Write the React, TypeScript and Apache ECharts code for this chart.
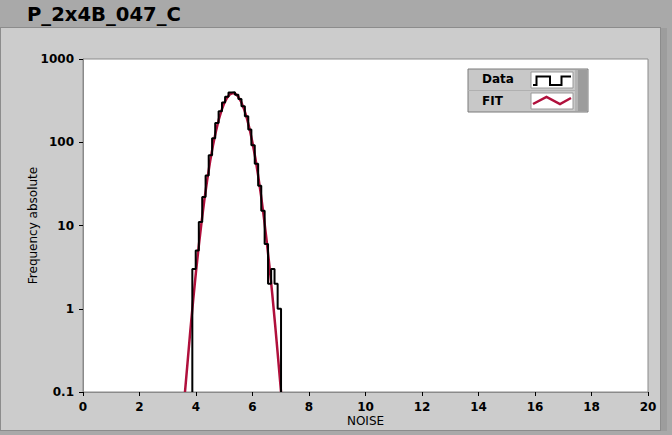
import React, { useEffect, useRef } from "react";
import * as echarts from "echarts";

const chartTitle = "P_2x4B_047_C";
const xAxisName = "NOISE";
const yAxisName = "Frequency absolute";
const legendNames = ["Data", "FIT"];

const xTicks = { min: 0, max: 20, interval: 2 };
const yRange = { min: 0.1, max: 1000 };

// histogram bin edges (27 bins) and counts
const binEdges = [3.87, 3.99, 4.1, 4.22, 4.34, 4.45, 4.57, 4.68, 4.8, 4.92, 5.03, 5.15, 5.27, 5.38, 5.5, 5.61, 5.73, 5.85, 5.96, 6.08, 6.2, 6.31, 6.43, 6.55, 6.66, 6.78, 6.89, 7.01];
const counts = [3, 5, 11, 22, 40, 70, 112, 170, 235, 300, 352, 395, 400, 372, 330, 270, 205, 142, 92, 55, 30, 15, 6, 2, 3, 2, 1];

// fit curve
const fitX = [3.61, 3.7, 3.8, 3.9, 4.0, 4.1, 4.2, 4.3, 4.4, 4.5, 4.6, 4.7, 4.8, 4.9, 5.0, 5.1, 5.2, 5.3, 5.4, 5.5, 5.6, 5.7, 5.8, 5.9, 6.0, 6.1, 6.2, 6.3, 6.4, 6.5, 6.6, 6.7, 6.8, 6.9, 7.01];
const fitY = [0.1, 0.224, 0.55, 1.27, 2.79, 5.75, 11.2, 20.7, 35.9, 58.9, 91.2, 133, 184, 240, 295, 343, 376, 389, 380, 351, 305, 251, 195, 143, 98.9, 64.6, 39.8, 23.2, 12.7, 6.6, 3.24, 1.5, 0.65, 0.27, 0.1];

const FONT = "DejaVu Sans";
const RED = "#b0103c";

export default function App() {
  const ref = useRef<HTMLDivElement>(null);
  useEffect(() => {
    document.body.style.margin = "0";
    const chart = echarts.init(ref.current!, null, { renderer: "svg" });

    const dataPts: number[][] = [[binEdges[0], yRange.min]];
    counts.forEach((c, i) => dataPts.push([binEdges[i], c]));
    const last = binEdges[binEdges.length - 1];
    dataPts.push([last, counts[counts.length - 1]]);
    dataPts.push([last, yRange.min]);

    const fitPts = fitX.map((x, i) => [x, fitY[i]]);

    const lx = 468, ly = 69;
    chart.setOption({
      animation: false,
      backgroundColor: "transparent",
      grid: {
        left: 83, top: 59, width: 565, height: 333,
        show: true, backgroundColor: "#ffffff", borderColor: "#8a8a8a", borderWidth: 1,
      },
      xAxis: {
        type: "value",
        min: xTicks.min, max: xTicks.max, interval: xTicks.interval,
        name: xAxisName, nameLocation: "middle", nameGap: 23, nameMoveOverlap: false,
        nameTextStyle: { fontFamily: FONT, fontSize: 12, color: "#000" },
        axisLine: { show: true, lineStyle: { color: "#8a8a8a", width: 1 } },
        axisTick: { show: true, length: 4, lineStyle: { color: "#000" } },
        axisLabel: { fontFamily: FONT, fontSize: 12, fontWeight: "bold", color: "#000", margin: 9 },
        splitLine: { show: false },
      },
      yAxis: {
        type: "log", logBase: 10,
        min: yRange.min, max: yRange.max,
        name: yAxisName, nameLocation: "middle", nameGap: 44, nameMoveOverlap: false,
        nameTextStyle: { fontFamily: FONT, fontSize: 12, color: "#000" },
        axisLine: { show: true, lineStyle: { color: "#8a8a8a", width: 1 } },
        axisTick: { show: true, length: 4, lineStyle: { color: "#000" } },
        axisLabel: { fontFamily: FONT, fontSize: 12, fontWeight: "bold", color: "#000", margin: 9,
          formatter: (v: number) => String(v) },
        splitLine: { show: false },
        minorTick: { show: false },
      },
      series: [
        {
          name: legendNames[1], type: "line", data: fitPts, showSymbol: false, symbol: "none",
          lineStyle: { color: RED, width: 2.5 }, z: 2, clip: true,
        },
        {
          name: legendNames[0], type: "line", data: dataPts, step: "end", showSymbol: false, symbol: "none",
          lineStyle: { color: "#000", width: 2 }, z: 3, clip: true,
        },
      ],
      graphic: [
        {
          type: "text", left: 27, top: 4,
          style: { text: chartTitle, fontFamily: FONT, fontSize: 19.6, fontWeight: "bold", fill: "#000" },
        },
        {
          type: "group", x: lx, y: ly, z: 100,
          children: [
            { type: "rect", shape: { x: 0, y: 0, width: 120, height: 43 }, style: { fill: "#c8c8c8", stroke: "#7a7a7a", lineWidth: 1 } },
            { type: "rect", shape: { x: 107, y: 1, width: 12, height: 41 }, style: { fill: "#9c9c9c" } },
            { type: "rect", shape: { x: 107, y: 1, width: 3, height: 41 }, style: { fill: "#b4b4b4" } },
            { type: "line", shape: { x1: 0, y1: 21.5, x2: 107, y2: 21.5 }, style: { stroke: "#b0b0b0", lineWidth: 1 } },
            { type: "text", x: 14, y: 10, style: { text: legendNames[0], fontFamily: FONT, fontSize: 12, fontWeight: "bold", fill: "#000", verticalAlign: "middle" } },
            { type: "text", x: 14, y: 32, style: { text: legendNames[1], fontFamily: FONT, fontSize: 12, fontWeight: "bold", fill: "#000", verticalAlign: "middle" } },
            { type: "rect", shape: { x: 63, y: 3, width: 42, height: 16 }, style: { fill: "#ffffff", stroke: "#9a9a9a", lineWidth: 1 } },
            { type: "rect", shape: { x: 63, y: 24, width: 42, height: 16 }, style: { fill: "#ffffff", stroke: "#9a9a9a", lineWidth: 1 } },
            { type: "polyline", shape: { points: [[65, 16], [68.5, 16], [68.5, 7.5], [82, 7.5], [82, 16], [93.5, 16], [93.5, 7.5], [103, 7.5]] }, style: { stroke: "#000", lineWidth: 2, fill: "none" } },
            { type: "polyline", shape: { points: [[65, 35], [78.5, 28], [92, 35], [103, 29]] }, style: { stroke: RED, lineWidth: 2.5, fill: "none" } },
          ],
        },
      ],
    });
    return () => chart.dispose();
  }, []);

  return (
    <div style={{ position: "relative", width: 672, height: 435, background: "#a9a9a9", overflow: "hidden" }}>
      <div style={{ position: "absolute", left: 0, top: 27, width: 659, height: 402, background: "#cccccc", borderTop: "1px solid #8c8c8c", borderLeft: "1px solid #8c8c8c", borderBottom: "1px solid #8c8c8c", borderRight: "1px solid #8c8c8c" }} />
      <div style={{ position: "absolute", left: 661, top: 28, width: 6, height: 403, background: "#9d9d9d" }} />
      <div ref={ref} style={{ position: "absolute", left: 0, top: 0, width: 672, height: 435 }} />
    </div>
  );
}
